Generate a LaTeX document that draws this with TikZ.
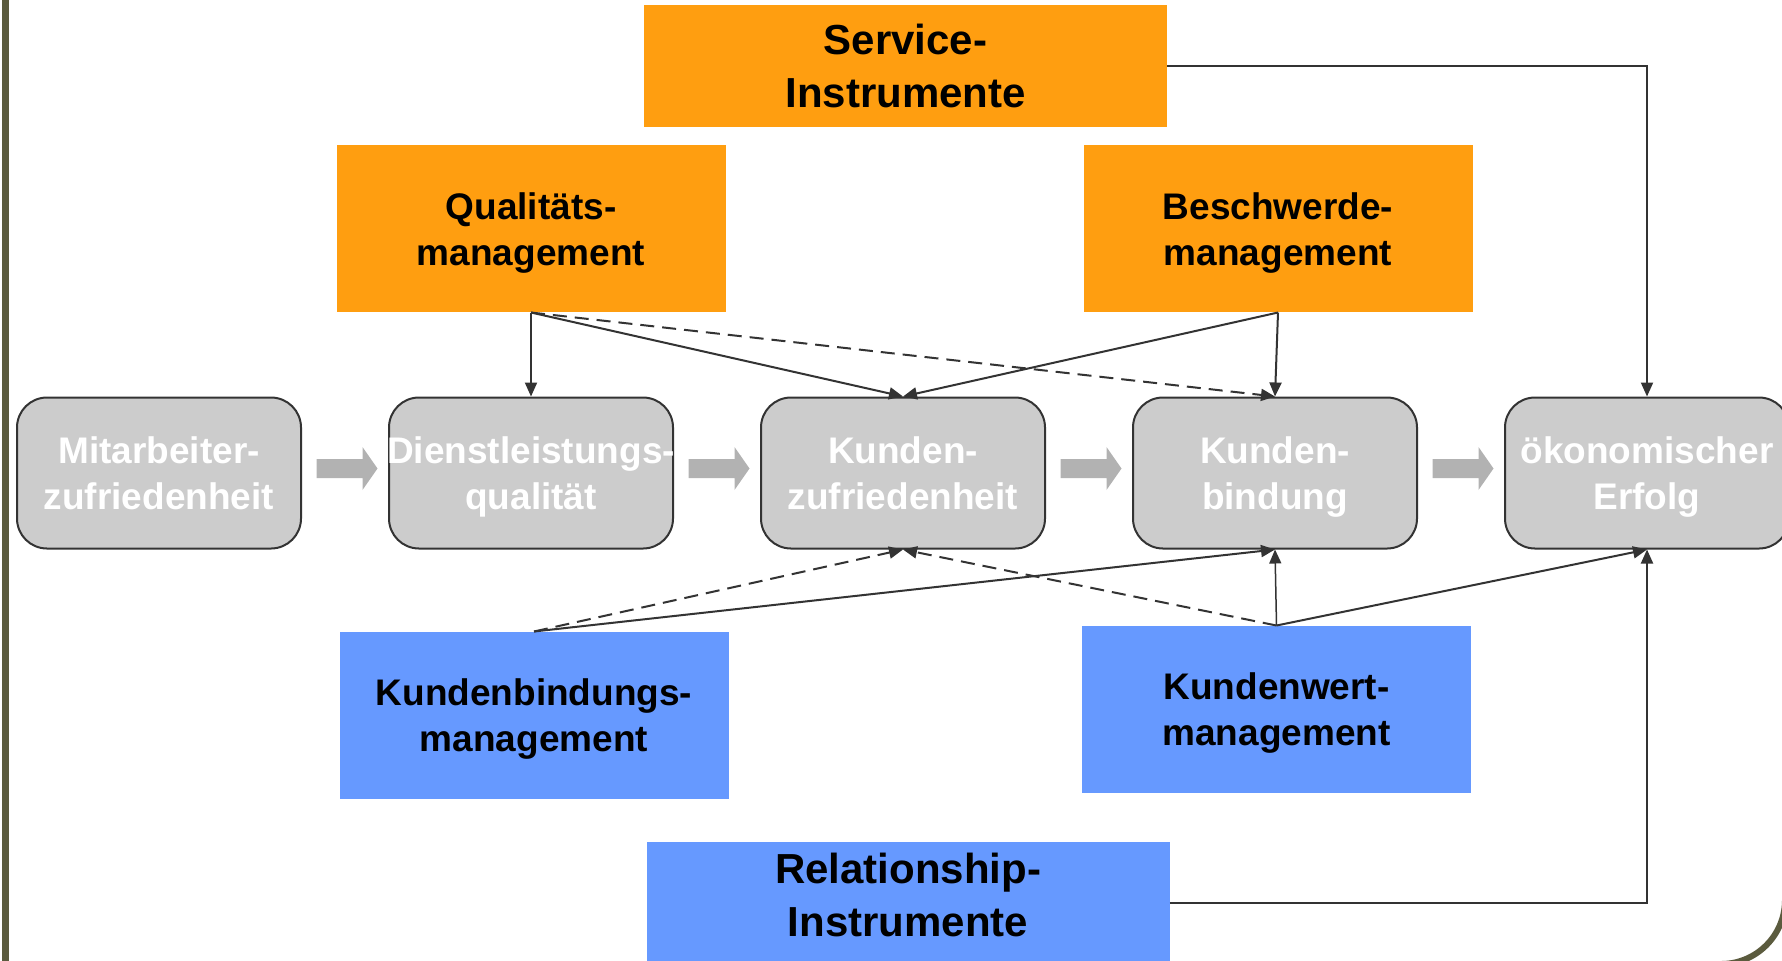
\documentclass[tikz,border=0pt]{standalone}
\usepackage{fontspec}
\setmainfont{Liberation Sans}
\usepackage{tikz}
\usetikzlibrary{arrows.meta, calc, positioning}
\definecolor{instrorange}{HTML}{FF9E10}
\definecolor{instrblue}{HTML}{6699FF}
\definecolor{boxgray}{HTML}{CCCCCC}
\definecolor{flowgray}{HTML}{B2B2B2}
\definecolor{linegray}{HTML}{333333}
\definecolor{framegreen}{HTML}{5B5B3E}
\tikzstyle{chainbox} = [rectangle, rounded corners=15pt, draw=linegray, line width=1pt, fill=boxgray, minimum width=142pt, minimum height=75.5pt, inner sep=0pt, text depth=0pt, align=center, text=white, font=\bfseries\fontsize{18.5pt}{23pt}\selectfont]
\tikzstyle{mgmt} = [rectangle, minimum width=194.5pt, minimum height=83.5pt, inner sep=0pt, text depth=0pt, align=center, font=\bfseries\fontsize{18.5pt}{23pt}\selectfont]
\tikzstyle{tool} = [rectangle, minimum width=261.5pt, minimum height=61pt, inner sep=0pt, align=center, font=\bfseries\fontsize{21pt}{26.5pt}\selectfont]
\tikzstyle{arrow} = [line width=1pt, draw=linegray, -{Triangle[length=7pt, width=6pt]}]
\tikzstyle{dasharrow} = [arrow, dash pattern=on 7pt off 4pt]
\tikzset{flow/.pic={\fill[flowgray] (-15.25pt,-4.75pt) -- (7.75pt,-4.75pt) -- (7.75pt,-10.75pt) -- (15.25pt,0pt) -- (7.75pt,10.75pt) -- (7.75pt,4.75pt) -- (-15.25pt,4.75pt) -- cycle;}}

\begin{document}
\begin{tikzpicture}[node distance = 43pt]
		\useasboundingbox (0,0) rectangle (891pt,-480pt);
		\clip (0,0) rectangle (891pt,-480pt);
		\draw [framegreen, line width=3.25pt] (2.65pt,5pt) -- (2.65pt,-485pt);
		\draw [framegreen, line width=3pt] (892.5pt,-300pt) -- (892.5pt,-450pt) arc[start angle=0, end angle=-90, radius=32pt] -- (700pt,-482pt);
		\node (Mitarbeiter) [chainbox] at (79.5pt,-236.5pt) {Mitarbeiter-\\zufriedenheit};
		\node (Dienstleistung) [chainbox, right = of Mitarbeiter] {\makebox[140pt]{Dienstleistungs-}\\qualität};
		\node (Zufriedenheit) [chainbox, right = of Dienstleistung] {Kunden-\\zufriedenheit};
		\node (Bindung) [chainbox, right = of Zufriedenheit] {Kunden-\\bindung};
		\node (Erfolg) [chainbox, right = of Bindung] {ökonomischer\\Erfolg};
		\pic at ($(Mitarbeiter.east)!0.5!(Dienstleistung.west)+(1pt,2.25pt)$) {flow};
		\pic at ($(Dienstleistung.east)!0.5!(Zufriedenheit.west)+(1pt,2.25pt)$) {flow};
		\pic at ($(Zufriedenheit.east)!0.5!(Bindung.west)+(1pt,2.25pt)$) {flow};
		\pic at ($(Bindung.east)!0.5!(Erfolg.west)+(1pt,2.25pt)$) {flow};
		\node (Qualitaet) [mgmt, fill=instrorange, above = 42pt of Dienstleistung] {Qualitäts-\\management};
		\node (Beschwerde) [mgmt, fill=instrorange, above = 42pt of Bindung, xshift=1.5pt] {Beschwerde-\\management};
		\node (Service) [tool, fill=instrorange, above = 134.5pt of Zufriedenheit, xshift=1.25pt] {Service-\\Instrumente};
		\node (Kundenbindung) [mgmt, fill=instrblue, below = 41pt of Dienstleistung, xshift=1.5pt] {Kundenbindungs-\\management};
		\node (Kundenwert) [mgmt, fill=instrblue, below = 38pt of Bindung, xshift=0.75pt] {Kundenwert-\\management};
		\node (Relationship) [tool, fill=instrblue, text depth=8.5pt, below = 146pt of Zufriedenheit, xshift=2.5pt] {Relationship-\\Instrumente};
		\draw [arrow] (Service) -| (Erfolg);
		\draw [arrow] (Relationship) -| (Erfolg);
		\draw [arrow] (Qualitaet.south) -- (Dienstleistung.north);
		\draw [arrow] (Qualitaet.south) -- (Zufriedenheit.north);
		\draw [dasharrow] (Qualitaet.south) -- (Bindung.north);
		\draw [arrow] (Beschwerde.south) -- (Zufriedenheit.north);
		\draw [arrow] (Beschwerde.south) -- (Bindung.north);
		\draw [dasharrow] (Kundenbindung.north) -- (Zufriedenheit.south);
		\draw [arrow] (Kundenbindung.north) -- (Bindung.south);
		\draw [dasharrow] (Kundenwert.north) -- (Zufriedenheit.south);
		\draw [arrow, line width=0.75pt] (Kundenwert.north) -- (Bindung.south);
		\draw [arrow] (Kundenwert.north) -- (Erfolg.south);
\end{tikzpicture}
\end{document}
